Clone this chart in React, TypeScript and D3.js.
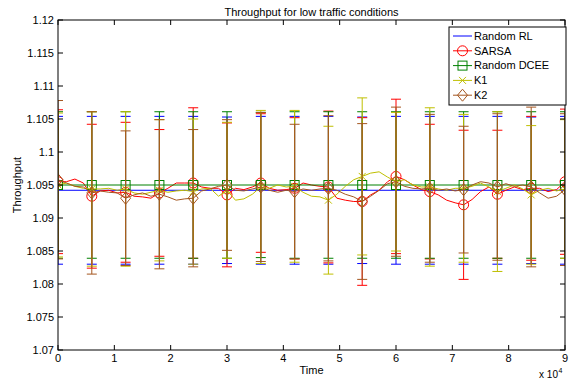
import React from 'react';
import * as d3 from 'd3';

const W = 572;
const H = 381;
const M = { left: 58, right: 7, top: 20, bottom: 31 };

// sampling grid of the noisy curves (time, 1500 apart) and error-bar times
const sampleTimes = d3.range(0, 90001, 1500);
const errTimes = [0, 6000, 12000, 18000, 24000, 30000, 36000, 42000, 48000, 54000, 60000, 66000, 72000, 78000, 84000, 90000];

const randomRLMean = 1.0942;
const randomDCEEMean = 1.095;

const sarsaLine = [
  1.0955, 1.0955, 1.0959, 1.0953, 1.0933, 1.0941, 1.0942, 1.0938, 1.0939, 1.0933,
  1.0932, 1.093, 1.0938, 1.0945, 1.0953, 1.0953, 1.0953, 1.0947, 1.0945, 1.0945,
  1.0935, 1.0945, 1.0943, 1.0947, 1.0953, 1.0945, 1.0942, 1.0943, 1.0945, 1.0953,
  1.095, 1.0948, 1.0947, 1.093, 1.0927, 1.0925, 1.0925, 1.0935, 1.0942, 1.0955,
  1.0963, 1.0958, 1.095, 1.0943, 1.094, 1.0935, 1.0927, 1.0923, 1.092, 1.0928,
  1.094, 1.0947, 1.0936, 1.0942, 1.0947, 1.0943, 1.0945, 1.0945, 1.094, 1.0943,
  1.0955,
];
const k1Line = [
  1.095, 1.0953, 1.0948, 1.0945, 1.0944, 1.0944, 1.0945, 1.0942, 1.0944, 1.0938,
  1.0936, 1.0939, 1.0942, 1.0939, 1.0941, 1.0942, 1.094, 1.0944, 1.0945, 1.0933,
  1.0942, 1.0927, 1.0929, 1.0936, 1.0947, 1.0945, 1.095, 1.0947, 1.0948, 1.0939,
  1.0933, 1.0932, 1.0927, 1.0936, 1.0948, 1.0958, 1.0963, 1.0968, 1.097, 1.0962,
  1.0955, 1.0958, 1.095, 1.0947, 1.0947, 1.0944, 1.0942, 1.0945, 1.0945, 1.0948,
  1.0953, 1.0947, 1.094, 1.0945, 1.095, 1.0944, 1.0935, 1.0942, 1.0945, 1.0941,
  1.0944,
];
const k2Line = [
  1.0958, 1.0953, 1.0948, 1.0947, 1.0938, 1.0941, 1.0939, 1.0938, 1.093, 1.0935,
  1.0938, 1.0933, 1.0936, 1.0932, 1.0927, 1.0929, 1.093, 1.0941, 1.0944, 1.0948,
  1.095, 1.0942, 1.0941, 1.0944, 1.0947, 1.0942, 1.0939, 1.0942, 1.094, 1.0944,
  1.0942, 1.0944, 1.0945, 1.0942, 1.0936, 1.0932, 1.0925, 1.0933, 1.0942, 1.0952,
  1.0955, 1.0948, 1.0945, 1.0944, 1.0945, 1.0942, 1.0944, 1.0941, 1.0943, 1.095,
  1.0955, 1.0953, 1.0947, 1.0952, 1.0948, 1.095, 1.0947, 1.0938, 1.093, 1.0933,
  1.0943,
];

// half-widths of the error bars at errTimes
const randomRLErr = [0.0112, 0.0112, 0.0112, 0.0112, 0.0112, 0.0111, 0.0112, 0.0112, 0.0112, 0.0111, 0.0112, 0.0112, 0.0112, 0.0112, 0.0111, 0.0112];
const sarsaErr = [0.0109, 0.0109, 0.0106, 0.0096, 0.0114, 0.0109, 0.0105, 0.0107, 0.0115, 0.0127, 0.0117, 0.0102, 0.0113, 0.0097, 0.0109, 0.011];
const randomDCEEErr = [0.0111, 0.0111, 0.0111, 0.0111, 0.0111, 0.0111, 0.011, 0.0111, 0.0111, 0.0111, 0.0111, 0.0111, 0.0111, 0.0111, 0.0111, 0.0111];
const k1Err = [0.0109, 0.0117, 0.0117, 0.0107, 0.011, 0.0103, 0.0116, 0.0115, 0.0112, 0.0119, 0.0105, 0.012, 0.0112, 0.0121, 0.0105, 0.0105];
const k2Err = [0.012, 0.0123, 0.0102, 0.0113, 0.0104, 0.0099, 0.0113, 0.0102, 0.011, 0.0118, 0.0113, 0.0112, 0.0096, 0.0111, 0.0121, 0.0115];

const seriesNames = ['Random RL', 'SARSA', 'Random DCEE', 'K1', 'K2'];
const seriesColors = ['#0000ff', '#ff0000', '#008000', '#bfbf00', '#a4561f'];
const seriesMarkers = ['none', 'circle', 'square', 'x', 'diamond'];

const yTicks = [1.07, 1.075, 1.08, 1.085, 1.09, 1.095, 1.1, 1.105, 1.11, 1.115, 1.12];
const yTickLabels = ['1.07', '1.075', '1.08', '1.085', '1.09', '1.095', '1.1', '1.105', '1.11', '1.115', '1.12'];
const xTicks = [0, 1, 2, 3, 4, 5, 6, 7, 8, 9];

const FONT = 'Liberation Sans, Arial, Helvetica, sans-serif';
const FS = 11;

const x = d3.scaleLinear().domain([0, 90000]).range([M.left, W - M.right]);
const y = d3.scaleLinear().domain([1.07, 1.12]).range([H - M.bottom, M.top]);

function Marker({ kind, cx, cy, color }: { kind: string; cx: number; cy: number; color: string }) {
  if (kind === 'circle') return <circle cx={cx} cy={cy} r={5} fill="none" stroke={color} strokeWidth={1} />;
  if (kind === 'square') return <rect x={cx - 4.5} y={cy - 4.5} width={9} height={9} fill="none" stroke={color} strokeWidth={1} />;
  if (kind === 'diamond')
    return <path d={`M${cx},${cy - 6}L${cx + 5},${cy}L${cx},${cy + 6}L${cx - 5},${cy}Z`} fill="none" stroke={color} strokeWidth={1} />;
  if (kind === 'x')
    return <path d={`M${cx - 3.5},${cy - 3.5}L${cx + 3.5},${cy + 3.5}M${cx - 3.5},${cy + 3.5}L${cx + 3.5},${cy - 3.5}`} stroke={color} strokeWidth={1} />;
  return null;
}

type S = { name: string; color: string; marker: string; line: number[] | null; mean: number; err: number[] };

export default function App() {
  const series: S[] = [
    { name: seriesNames[0], color: seriesColors[0], marker: seriesMarkers[0], line: null, mean: randomRLMean, err: randomRLErr },
    { name: seriesNames[1], color: seriesColors[1], marker: seriesMarkers[1], line: sarsaLine, mean: 0, err: sarsaErr },
    { name: seriesNames[2], color: seriesColors[2], marker: seriesMarkers[2], line: null, mean: randomDCEEMean, err: randomDCEEErr },
    { name: seriesNames[3], color: seriesColors[3], marker: seriesMarkers[3], line: k1Line, mean: 0, err: k1Err },
    { name: seriesNames[4], color: seriesColors[4], marker: seriesMarkers[4], line: k2Line, mean: 0, err: k2Err },
  ];
  const lineGen = d3.line<number>().x((_, i) => x(sampleTimes[i])).y((d) => y(d));
  const valueAt = (s: S, t: number) => (s.line ? s.line[sampleTimes.indexOf(t)] : s.mean);

  const plotL = M.left, plotR = W - M.right, plotT = M.top, plotB = H - M.bottom;
  const lx = 449, ly = 27, lw = 117, lh = 78;

  return (
    <svg width={W} height={H} style={{ position: 'absolute', left: 0, top: 0, background: '#fff' }} fontFamily={FONT}>
      <rect x={0} y={0} width={W} height={H} fill="#fff" />
      <defs>
        <clipPath id="plot">
          <rect x={plotL} y={plotT} width={plotR - plotL} height={plotB - plotT} />
        </clipPath>
      </defs>
      <g clipPath="url(#plot)">
        {series.map((s) => (
          <g key={s.name}>
            {errTimes.map((t, i) => {
              const v = valueAt(s, t);
              const cx = x(t);
              const y1 = y(v + s.err[i]);
              const y2 = y(v - s.err[i]);
              return (
                <g key={t} stroke={s.color} strokeWidth={1}>
                  <line x1={cx} x2={cx} y1={y1} y2={y2} />
                  <line x1={cx - 5} x2={cx + 5} y1={y1} y2={y1} />
                  <line x1={cx - 5} x2={cx + 5} y1={y2} y2={y2} />
                </g>
              );
            })}
            {s.line ? (
              <path d={lineGen(s.line) || ''} fill="none" stroke={s.color} strokeWidth={1} />
            ) : (
              <line x1={plotL} x2={plotR} y1={y(s.mean)} y2={y(s.mean)} stroke={s.color} strokeWidth={1} />
            )}
            {errTimes.map((t) => (
              <Marker key={t} kind={s.marker} cx={x(t)} cy={y(valueAt(s, t))} color={s.color} />
            ))}
          </g>
        ))}
      </g>
      {/* axes box */}
      <rect x={plotL} y={plotT} width={plotR - plotL} height={plotB - plotT} fill="none" stroke="#000" strokeWidth={1} />
      {yTicks.map((t, i) => (
        <g key={t}>
          <line x1={plotL} x2={plotL + 5} y1={y(t)} y2={y(t)} stroke="#000" />
          <line x1={plotR} x2={plotR - 5} y1={y(t)} y2={y(t)} stroke="#000" />
          <text x={plotL - 4} y={y(t)} dy="0.35em" textAnchor="end" fontSize={FS}>{yTickLabels[i]}</text>
        </g>
      ))}
      {xTicks.map((t) => (
        <g key={t}>
          <line x1={x(t * 10000)} x2={x(t * 10000)} y1={plotB} y2={plotB - 5} stroke="#000" />
          <line x1={x(t * 10000)} x2={x(t * 10000)} y1={plotT} y2={plotT + 5} stroke="#000" />
          <text x={x(t * 10000)} y={plotB + 12} textAnchor="middle" fontSize={FS}>{t}</text>
        </g>
      ))}
      <text x={(plotL + plotR) / 2} y={plotB + 24} textAnchor="middle" fontSize={FS}>Time</text>
      <text x={plotR - 7} y={H - 3} textAnchor="end" fontSize={FS - 1}>x 10</text>
      <text x={plotR - 6.5} y={H - 8} fontSize={7}>4</text>
      <text transform={`translate(21,${(plotT + plotB) / 2}) rotate(-90)`} textAnchor="middle" fontSize={FS}>Throughput</text>
      <text x={(plotL + plotR) / 2} y={16} textAnchor="middle" fontSize={FS}>Throughput for low traffic conditions</text>
      {/* legend */}
      <rect x={lx} y={ly} width={lw} height={lh} fill="#fff" stroke="#000" strokeWidth={1} />
      {series.map((s, i) => {
        const ry = ly + 9 + i * 14.8;
        return (
          <g key={s.name}>
            <line x1={lx + 4} x2={lx + 23} y1={ry} y2={ry} stroke={s.color} strokeWidth={1} />
            <Marker kind={s.marker} cx={lx + 13.5} cy={ry} color={s.color} />
            <text x={lx + 25} y={ry} dy="0.35em" fontSize={FS}>{s.name}</text>
          </g>
        );
      })}
    </svg>
  );
}
